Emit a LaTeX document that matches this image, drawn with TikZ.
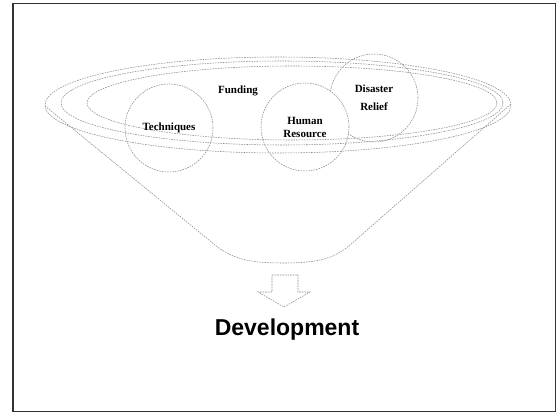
\documentclass[tikz,border=0pt]{standalone}
\usepackage{fontspec}
\setmainfont{Liberation Serif}
\newfontfamily\labelsans{Liberation Sans}
\begin{document}
\begin{tikzpicture}[x=1pt,y=-1pt,
  faint/.style={draw=black!45,line width=0.55pt,dash pattern=on 1.6pt off 1pt},
  ring/.style={faint,circle,minimum size=88pt,inner sep=0pt,align=center,
    font=\bfseries\fontsize{11}{13}\selectfont},
  word/.style={font=\bfseries\fontsize{11}{13}\selectfont}]
\useasboundingbox (0,0) rectangle (558,414);
% frame
\draw[black!80,line width=1.6pt] (13,3.5) rectangle (555.5,411.5);

% circle lying behind the others
\node[ring,font=\bfseries\fontsize{11}{18}\selectfont] (relief) at (374,98) {Disaster\\Relief};
\node[ring,fill=white] (human) at (305,127) {Human\\Resource};

% funnel: rim ellipses and body
\draw[faint] (278,105) ellipse [x radius=233, y radius=48];
\draw[faint] (282,103) ellipse [x radius=221, y radius=42];
\draw[faint] (292,103) ellipse [x radius=205, y radius=37];
\coordinate (rimL) at (45,106);
\coordinate (rimR) at (511,104);
\draw[faint] (rimL) -- (215,245) .. controls (235,261) and (255,263) .. (285,263)
  .. controls (318,263) and (335,258) .. (350,245) -- (rimR);

% remaining circle and labels
\node[ring] (tech) at (169,128) {Techniques};
\node[word] (funding) at (238,91) {Funding};

% downward block arrow
\draw[faint] (272,275) -- (298,275) -- (298,292) -- (310,292) -- (284,307)
  -- (258,292) -- (272,292) -- cycle;

\node[font=\labelsans\bfseries\fontsize{23}{26}\selectfont,anchor=base]
  (dev) at (287,336) {Development};
\end{tikzpicture}
\end{document}
